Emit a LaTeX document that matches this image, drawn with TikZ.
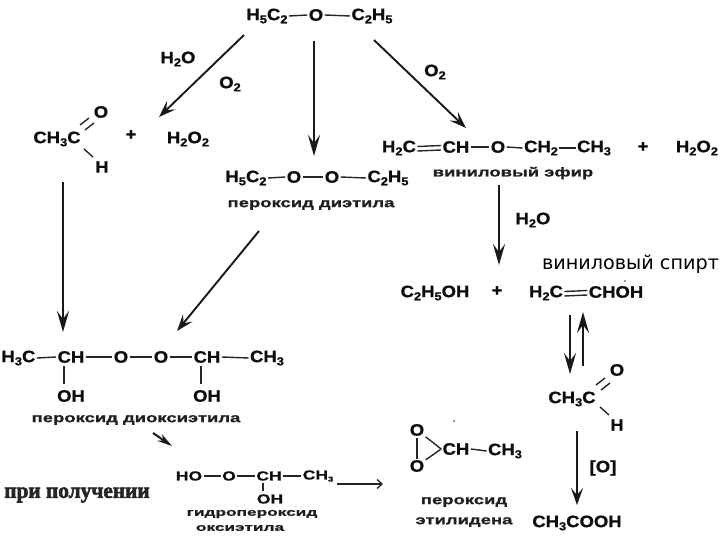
\documentclass[tikz,border=0pt]{standalone}
\usepackage{fontspec}
\usepackage{graphicx}
\usetikzlibrary{arrows.meta}
\setmainfont{Liberation Sans}
\newfontfamily\chemf[FakeStretch=1.12,FakeBold=0.9]{Liberation Sans Bold}
\newfontfamily\smallf[FakeStretch=1.35,FakeBold=0.8]{Liberation Sans Bold}
\newfontfamily\labf[FakeStretch=1.42,FakeBold=1]{Liberation Sans Bold}
\newfontfamily\slabf[FakeStretch=1.6,FakeBold=1]{Liberation Sans Bold}
\newfontfamily\serf[FakeBold=2.5,FakeStretch=0.97]{Liberation Serif Bold}
\newfontfamily\plainf{DejaVu Sans}
\newcommand{\dn}[1]{\raisebox{-0.36ex}{\fontsize{11.5}{12}\selectfont #1}}
\newcommand{\dns}[1]{\raisebox{-0.3ex}{\fontsize{7}{8}\selectfont #1}}
\tikzset{
  chem/.style={inner sep=0pt,outer sep=1.5pt,font=\chemf\fontsize{16.5}{18}\selectfont,text=black!95},
  small/.style={inner sep=0pt,outer sep=1.5pt,font=\smallf\fontsize{13}{14}\selectfont,text=black!95},
  lab/.style={inner sep=0pt,font=\labf\fontsize{13}{15}\selectfont,text=black!88},
  slab/.style={inner sep=0pt,font=\slabf\fontsize{10.8}{12}\selectfont,text=black!88},
  bond/.style={line width=1.4pt,black!85},
  vbond/.style={line width=2pt,black!85},
  arr/.style={line width=1.9pt,black!90,-{Stealth[length=17pt,width=12pt,inset=7pt]}},
  tarr/.style={line width=2.7pt,black!90,-{Stealth[length=21pt,width=12pt,inset=8pt]}},
}
\begin{document}
\begin{tikzpicture}[x=1pt,y=-1pt]
\useasboundingbox (0,0) rectangle (720,540);
\clip (0,0) rectangle (720,540);
% top
\node[chem] (t1) at (267,16) {H\dn{5}C\dn{2}};
\node[chem] (t2) at (316,15) {O};
\node[chem] (t3) at (372,16) {C\dn{2}H\dn{5}};
\draw[bond] (t1.east) -- (t2.west);
\draw[bond] (t2.east) -- (t3.west);
% left branch
\node[chem] (w1) at (178,59) {H\dn{2}O};
\node[chem] (o1) at (230,84) {O\dn{2}};
\node[chem] (a1) at (57,139) {CH\dn{3}C};
\node[chem] (a2) at (101,112) {O};
\node[chem] (a3) at (102,167) {H};
\node[chem] (p1) at (131,135) {+};
\node[chem] (h1) at (188,139) {H\dn{2}O\dn{2}};
\draw[bond] (80,125) -- (89,118);
\draw[bond] (85,130) -- (94,123);
\draw[bond] (84,149) -- (93,157);
% centre
\node[chem] (d1) at (246,178) {H\dn{5}C\dn{2}};
\node[chem] (d2) at (294,177) {O};
\node[chem] (d3) at (332,177) {O};
\node[chem] (d4) at (388,178) {C\dn{2}H\dn{5}};
\draw[bond] (d1.east) -- (d2.west);
\draw[bond] (d2.east) -- (d3.west);
\draw[bond] (d3.east) -- (d4.west);
\node[lab] (dl) at (311,205) {пероксид диэтила};
% vinyl ether
\node[chem] (o2) at (435,72) {O\dn{2}};
\node[chem] (v1) at (399,148) {H\dn{2}C};
\node[chem] (v2) at (456,147) {CH};
\node[chem] (v3) at (498,147) {O};
\node[chem] (v4) at (541,148) {CH\dn{2}};
\node[chem] (v5) at (594,148) {CH\dn{3}};
\node[chem] (p2) at (643,147) {+};
\node[chem,anchor=east] (h2) at (719.5,148) {H\dn{2}O\dn{2}};
\draw[bond] ([yshift=-3pt]v1.east) -- ([yshift=-3pt]v2.west);
\draw[bond] ([yshift=1.5pt]v1.east) -- ([yshift=1.5pt]v2.west);
\draw[bond] (v2.east) -- (v3.west);
\draw[bond] (v3.east) -- (v4.west);
\draw[bond] (v4.east) -- (v5.west);
\node[lab] (vl) at (513,173) {виниловый эфир};
\node[chem] (w2) at (533,220) {H\dn{2}O};
\node[inner sep=0pt,font=\plainf\fontsize{19.2}{21}\selectfont] (vs) at (630.5,264) {виниловый спирт};
% alcohol row
\node[chem] (e1) at (435,293) {C\dn{2}H\dn{5}OH};
\node[chem] (p3) at (497,291) {+};
\node[chem] (e2) at (546,293) {H\dn{2}C};
\node[chem] (e3) at (616,292) {CHOH};
\draw[bond] ([yshift=-3pt]e2.east) -- ([yshift=-3pt]e3.west);
\draw[bond] ([yshift=1.5pt]e2.east) -- ([yshift=1.5pt]e3.west);
\fill[black!80] (625,281) circle (0.8pt);
% acetaldehyde right
\node[chem] (b1) at (572,399) {CH\dn{3}C};
\node[chem] (b2) at (617,370) {O};
\node[chem] (b3) at (617,425) {H};
\draw[bond] (596,385) -- (605,378);
\draw[bond] (601,390) -- (610,383);
\draw[bond] (600,407) -- (609,415);
\node[chem] (o3) at (603,468) {[O]};
\node[chem] (c1) at (577,523) {CH\dn{3}COOH};
% peroxide ethylidene
\node[chem] (q1) at (417,430) {O};
\node[chem] (q2) at (417,466) {O};
\node[chem] (q3) at (456,449) {CH};
\node[chem] (q4) at (505,451) {CH\dn{3}};
\draw[bond,shorten <=1pt] (q1) -- (q2);
\draw[bond] (q1) -- (q3.west);
\draw[bond] (q2) -- (q3.west);
\draw[bond] (q3.east) -- (q4.west);
\fill[black!80] (454,421) circle (0.9pt);
\node[lab] (ql1) at (464,502) {пероксид};
\node[lab] (ql2) at (464,522) {этилидена};
% dioxyethyl
\node[chem,anchor=west] (m1) at (0,358) {H\dn{3}C};
\node[chem] (m2) at (71,357) {CH};
\node[chem] (m3) at (121,357) {O};
\node[chem] (m4) at (161,357) {O};
\node[chem] (m5) at (207,357) {CH};
\node[chem] (m6) at (267,358) {CH\dn{3}};
\node[chem] (m7) at (71,396) {OH};
\node[chem] (m8) at (207,396) {OH};
\draw[bond] (m1.east) -- (m2.west);
\draw[bond] (m2.east) -- (m3.west);
\draw[bond] (m3.east) -- (m4.west);
\draw[bond] (m4.east) -- (m5.west);
\draw[bond] (m5.east) -- (m6.west);
\draw[vbond] (64,366) -- (64,384);
\draw[vbond] (201,366) -- (201,384);
\node[lab] (ml) at (136,420) {пероксид диоксиэтила};
% hydroperoxide
\node[small] (n1) at (189,476) {HO};
\node[small] (n2) at (229,476) {O};
\node[small] (n3) at (269,476) {CH};
\node[small] (n4) at (318,476) {CH\dns{3}};
\node[small] (n5) at (270,499) {OH};
\draw[bond] (n1.east) -- (n2.west);
\draw[bond] (n2.east) -- (n3.west);
\draw[bond] (n3.east) -- (n4.west);
\draw[vbond] (263,483) -- (263,491);
\node[slab] (nl1) at (252,514) {гидропероксид};
\node[slab] (nl2) at (240,528) {оксиэтила};
\node[inner sep=0pt,font=\serf\fontsize{22}{24}\selectfont,text=black!85] (pp) at (77,495) {при получении};
% arrow ends
\coordinate (s1) at (244,35);  \coordinate (e1a) at (159,117);
\coordinate (s2) at (314,41);  \coordinate (e2a) at (314,156);
\coordinate (s3) at (374,40);  \coordinate (e3a) at (466,128);
\coordinate (s4) at (63,182);  \coordinate (e4a) at (63,332);
\coordinate (s5) at (259,231); \coordinate (e5a) at (177,331);
\coordinate (s6) at (499,185); \coordinate (e6a) at (499,265);
\coordinate (s7) at (570,315); \coordinate (e7a) at (570,374);
\coordinate (s8) at (583,366); \coordinate (e8a) at (583,312);
\coordinate (s9) at (577,431); \coordinate (e9a) at (577,505);
\coordinate (s10) at (153,433); \coordinate (e10a) at (172,446);
\coordinate (s11) at (337,484); \coordinate (e11a) at (383,484);
\draw[arr] (s1) -- (e1a);
\draw[tarr] (s2) -- (e2a);
\draw[arr] (s3) -- (e3a);
\draw[tarr] (s4) -- (e4a);
\draw[arr] (s5) -- (e5a);
\draw[tarr] (s6) -- (e6a);
\draw[tarr] (s7) -- (e7a);
\draw[tarr] (s8) -- (e8a);
\draw[arr] (s9) -- (e9a);
\draw[line width=2pt,black!90,-{Stealth[length=15pt,width=8pt,inset=5pt]}] (s10) -- (e10a);
\draw[line width=1.3pt,black!85,-{Straight Barb[length=5pt,width=9pt]}] (s11) -- (e11a);
\end{tikzpicture}
\end{document}
